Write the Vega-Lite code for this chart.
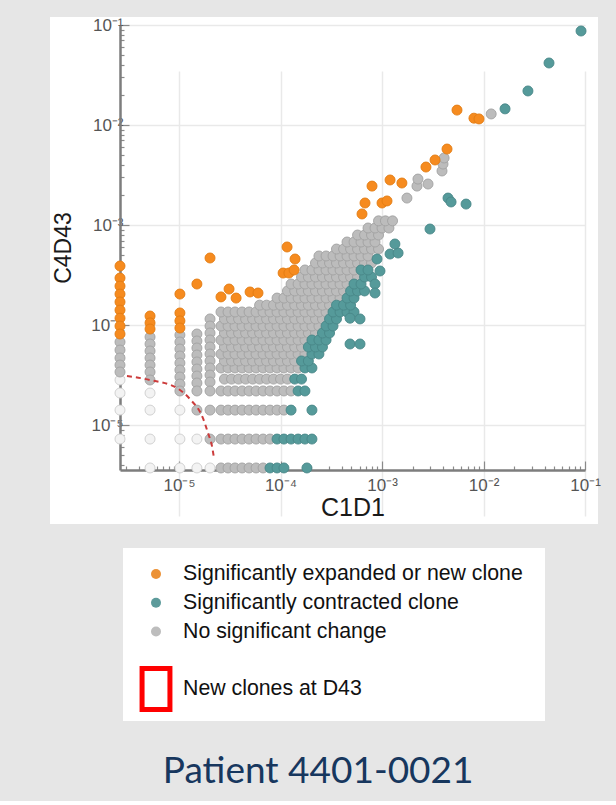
{
"$schema":"https://vega.github.io/schema/vega-lite/v6.json",
"background":"#e6e6e6",
"padding":{"left":50,"top":16,"right":18,"bottom":11},
"autosize":{"type":"pad"},
"bounds":"full",
"spacing":24,
"title":{"text":"Patient 4401-0021","orient":"bottom","anchor":"middle","font":"Lato","fontSize":37,"fontWeight":"normal","color":"#17375E","offset":33,"dx":-7},
"config":{"view":{"stroke":null},"font":"Liberation Sans"},
"resolve":{"scale":{"x":"independent","y":"independent","fill":"independent","stroke":"independent"}},
"vconcat":[
{
"width":548,"height":507,
"view":{"fill":"white","stroke":null},
"layer":[
{"mark":{"type":"rule","strokeDash":[6,5],"strokeWidth":1.5,"color":"#b5bbc3"},
"encoding":{
"x":{"datum":3.55e-6,"type":"quantitative","title":"C1D1","scale":{"type":"log","domain":[2.62e-6,0.1],"range":[70,535],"nice":false},
"axis":{"orient":"bottom","offset":-54,"values":[3e-6,4e-6,5e-6,6e-6,7e-6,8e-6,9e-6,1e-5,2e-5,3e-5,4e-5,5e-5,6e-5,7e-5,8e-5,9e-5,1e-4,2e-4,3e-4,4e-4,5e-4,6e-4,7e-4,8e-4,9e-4,1e-3,2e-3,3e-3,4e-3,5e-3,6e-3,7e-3,8e-3,9e-3,1e-2,2e-2,3e-2,4e-2,5e-2,6e-2,7e-2,8e-2,9e-2,0.1],
"labelExpr":"abs(log(datum.value)/LN10 - round(log(datum.value)/LN10)) > 0.01 ? '' : round(log(datum.value)/LN10) == -1 ? '10⁻¹' : round(log(datum.value)/LN10) == -2 ? '10⁻²' : round(log(datum.value)/LN10) == -3 ? '10⁻³' : round(log(datum.value)/LN10) == -4 ? '10⁻⁴' : '10⁻⁵'",
"labelOverlap":false,"labelFlush":false,"labelBound":false,"labelFont":"Liberation Sans","labelFontSize":17,"labelColor":"#555555","labelPadding":16,
"tickSize":{"condition":{"test":"abs(log(datum.value)/LN10 - round(log(datum.value)/LN10)) < 0.01","value":-9},"value":-4},
"tickColor":"#8a8a8a","tickWidth":1.2,"domainColor":"#7d7d7d","domainWidth":2.5,
"grid":true,"gridColor":"#e9e9e9","gridWidth":1.5,"gridOpacity":{"condition":{"test":"abs(log(datum.value)/LN10 - round(log(datum.value)/LN10)) < 0.01","value":1},"value":0},
"titleFont":"Liberation Sans","titleFontSize":25,"titleFontWeight":"normal","titleColor":"#1a1a1a","titlePadding":-3}},
"y":{"datum":3.55e-6,"type":"quantitative","title":"C4D43","scale":{"type":"log","domain":[3.55e-6,0.1],"range":[453,8],"nice":false},
"axis":{"orient":"left","offset":-70,"values":[4e-6,5e-6,6e-6,7e-6,8e-6,9e-6,1e-5,2e-5,3e-5,4e-5,5e-5,6e-5,7e-5,8e-5,9e-5,1e-4,2e-4,3e-4,4e-4,5e-4,6e-4,7e-4,8e-4,9e-4,1e-3,2e-3,3e-3,4e-3,5e-3,6e-3,7e-3,8e-3,9e-3,1e-2,2e-2,3e-2,4e-2,5e-2,6e-2,7e-2,8e-2,9e-2,0.1],
"labelExpr":"abs(log(datum.value)/LN10 - round(log(datum.value)/LN10)) > 0.01 ? '' : round(log(datum.value)/LN10) == -1 ? '10⁻¹' : round(log(datum.value)/LN10) == -2 ? '10⁻²' : round(log(datum.value)/LN10) == -3 ? '10⁻³' : round(log(datum.value)/LN10) == -4 ? '10⁻⁴' : '10⁻⁵'",
"labelOverlap":false,"labelFlush":false,"labelBound":false,"labelFont":"Liberation Sans","labelFontSize":17,"labelColor":"#555555","labelPadding":6,
"tickSize":{"condition":{"test":"abs(log(datum.value)/LN10 - round(log(datum.value)/LN10)) < 0.01","value":-9},"value":-4},
"tickColor":"#8a8a8a","tickWidth":1.2,"domainColor":"#7d7d7d","domainWidth":2.5,
"grid":true,"gridColor":"#e9e9e9","gridWidth":1.5,"gridOpacity":{"condition":{"test":"abs(log(datum.value)/LN10 - round(log(datum.value)/LN10)) < 0.01","value":1},"value":0},
"titleFont":"Liberation Sans","titleFontSize":23,"titleFontWeight":"normal","titleColor":"#1a1a1a","titlePadding":15}},
"x2":{"datum":0.1},
"y2":{"datum":0.1}
}},
{"data":{"values":[
{"x":2.62e-6,"y":2.82e-5,"s":"L"},{"x":2.62e-6,"y":2.09e-5,"s":"L"},{"x":2.62e-6,"y":1.41e-5,"s":"L"},{"x":2.62e-6,"y":7.24e-6,"s":"L"},
{"x":5.18e-6,"y":2.09e-5,"s":"L"},{"x":5.18e-6,"y":1.41e-5,"s":"L"},{"x":5.18e-6,"y":7.24e-6,"s":"L"},{"x":5.18e-6,"y":3.72e-6,"s":"L"},
{"x":1.02e-5,"y":1.41e-5,"s":"L"},{"x":1.02e-5,"y":7.24e-6,"s":"L"},{"x":1.02e-5,"y":3.72e-6,"s":"L"},
{"x":1.5e-5,"y":7.24e-6,"s":"L"},{"x":1.5e-5,"y":3.72e-6,"s":"L"},{"x":2.02e-5,"y":3.72e-6,"s":"L"},
{"x":2.62e-6,"y":6.76e-5,"s":"N"},{"x":2.62e-6,"y":5.62e-5,"s":"N"},{"x":2.62e-6,"y":4.68e-5,"s":"N"},{"x":2.62e-6,"y":3.98e-5,"s":"N"},{"x":2.62e-6,"y":3.39e-5,"s":"N"},
{"x":5.18e-6,"y":7.59e-5,"s":"N"},{"x":5.18e-6,"y":6.46e-5,"s":"N"},{"x":5.18e-6,"y":5.5e-5,"s":"N"},{"x":5.18e-6,"y":4.68e-5,"s":"N"},{"x":5.18e-6,"y":3.98e-5,"s":"N"},{"x":5.18e-6,"y":3.39e-5,"s":"N"},{"x":5.18e-6,"y":2.82e-5,"s":"N"},
{"x":1.02e-5,"y":7.94e-5,"s":"N"},{"x":1.02e-5,"y":6.76e-5,"s":"N"},{"x":1.02e-5,"y":5.75e-5,"s":"N"},{"x":1.02e-5,"y":4.9e-5,"s":"N"},{"x":1.02e-5,"y":4.17e-5,"s":"N"},{"x":1.02e-5,"y":3.55e-5,"s":"N"},{"x":1.02e-5,"y":3.02e-5,"s":"N"},{"x":1.02e-5,"y":2.57e-5,"s":"N"},{"x":1.02e-5,"y":2.19e-5,"s":"N"},
{"x":1.5e-5,"y":8.13e-5,"s":"N"},{"x":1.5e-5,"y":6.92e-5,"s":"N"},{"x":1.5e-5,"y":5.89e-5,"s":"N"},{"x":1.5e-5,"y":5.01e-5,"s":"N"},{"x":1.5e-5,"y":4.27e-5,"s":"N"},{"x":1.5e-5,"y":3.63e-5,"s":"N"},{"x":1.5e-5,"y":3.09e-5,"s":"N"},{"x":1.5e-5,"y":2.63e-5,"s":"N"},{"x":1.5e-5,"y":2.19e-5,"s":"N"},{"x":1.5e-5,"y":1.41e-5,"s":"N"},
{"x":2.02e-5,"y":1.15e-4,"s":"N"},{"x":2.02e-5,"y":9.77e-5,"s":"N"},{"x":2.02e-5,"y":8.32e-5,"s":"N"},{"x":2.02e-5,"y":7.08e-5,"s":"N"},{"x":2.02e-5,"y":6.03e-5,"s":"N"},{"x":2.02e-5,"y":5.13e-5,"s":"N"},{"x":2.02e-5,"y":4.37e-5,"s":"N"},{"x":2.02e-5,"y":3.72e-5,"s":"N"},{"x":2.02e-5,"y":3.16e-5,"s":"N"},{"x":2.02e-5,"y":2.69e-5,"s":"N"},{"x":2.02e-5,"y":2.19e-5,"s":"N"},{"x":2.02e-5,"y":1.41e-5,"s":"N"},{"x":2.02e-5,"y":7.24e-6,"s":"N"},
{"x":2.59e-5,"y":3.72e-6,"s":"N"},{"x":3.04e-5,"y":3.72e-6,"s":"N"},{"x":3.56e-5,"y":3.72e-6,"s":"N"},{"x":4.18e-5,"y":3.72e-6,"s":"N"},{"x":4.9e-5,"y":3.72e-6,"s":"N"},{"x":5.74e-5,"y":3.72e-6,"s":"N"},{"x":6.73e-5,"y":3.72e-6,"s":"N"},
{"x":2.59e-5,"y":7.24e-6,"s":"N"},{"x":3.04e-5,"y":7.24e-6,"s":"N"},{"x":3.56e-5,"y":7.24e-6,"s":"N"},{"x":4.18e-5,"y":7.24e-6,"s":"N"},{"x":4.9e-5,"y":7.24e-6,"s":"N"},{"x":5.74e-5,"y":7.24e-6,"s":"N"},{"x":6.73e-5,"y":7.24e-6,"s":"N"},{"x":7.88e-5,"y":7.24e-6,"s":"N"},
{"x":2.59e-5,"y":1.41e-5,"s":"N"},{"x":3.04e-5,"y":1.41e-5,"s":"N"},{"x":3.56e-5,"y":1.41e-5,"s":"N"},{"x":4.18e-5,"y":1.41e-5,"s":"N"},{"x":4.9e-5,"y":1.41e-5,"s":"N"},{"x":5.74e-5,"y":1.41e-5,"s":"N"},{"x":6.73e-5,"y":1.41e-5,"s":"N"},{"x":7.88e-5,"y":1.41e-5,"s":"N"},{"x":9.24e-5,"y":1.41e-5,"s":"N"},{"x":1.08e-4,"y":1.41e-5,"s":"N"},
{"x":2.59e-5,"y":2.19e-5,"s":"N"},{"x":3.04e-5,"y":2.19e-5,"s":"N"},{"x":3.56e-5,"y":2.19e-5,"s":"N"},{"x":4.18e-5,"y":2.19e-5,"s":"N"},{"x":4.9e-5,"y":2.19e-5,"s":"N"},{"x":5.74e-5,"y":2.19e-5,"s":"N"},{"x":6.73e-5,"y":2.19e-5,"s":"N"},{"x":7.88e-5,"y":2.19e-5,"s":"N"},{"x":9.24e-5,"y":2.19e-5,"s":"N"},{"x":1.08e-4,"y":2.19e-5,"s":"N"},{"x":1.27e-4,"y":2.19e-5,"s":"N"},
{"x":2.8e-5,"y":2.88e-5,"s":"N"},{"x":3.29e-5,"y":2.88e-5,"s":"N"},{"x":3.86e-5,"y":2.88e-5,"s":"N"},{"x":4.53e-5,"y":2.88e-5,"s":"N"},{"x":5.31e-5,"y":2.88e-5,"s":"N"},{"x":6.22e-5,"y":2.88e-5,"s":"N"},{"x":7.29e-5,"y":2.88e-5,"s":"N"},{"x":8.53e-5,"y":2.88e-5,"s":"N"},{"x":1e-4,"y":2.88e-5,"s":"N"},{"x":1.17e-4,"y":2.88e-5,"s":"N"},
{"x":2.59e-5,"y":3.72e-5,"s":"N"},{"x":3.04e-5,"y":3.72e-5,"s":"N"},{"x":3.56e-5,"y":3.72e-5,"s":"N"},{"x":4.18e-5,"y":3.72e-5,"s":"N"},{"x":4.9e-5,"y":3.72e-5,"s":"N"},{"x":5.74e-5,"y":3.72e-5,"s":"N"},{"x":6.73e-5,"y":3.72e-5,"s":"N"},{"x":7.88e-5,"y":3.72e-5,"s":"N"},{"x":9.24e-5,"y":3.72e-5,"s":"N"},{"x":1.08e-4,"y":3.72e-5,"s":"N"},{"x":1.27e-4,"y":3.72e-5,"s":"N"},{"x":1.49e-4,"y":3.72e-5,"s":"N"},
{"x":2.8e-5,"y":4.37e-5,"s":"N"},{"x":3.29e-5,"y":4.37e-5,"s":"N"},{"x":3.86e-5,"y":4.37e-5,"s":"N"},{"x":4.53e-5,"y":4.37e-5,"s":"N"},{"x":5.31e-5,"y":4.37e-5,"s":"N"},{"x":6.22e-5,"y":4.37e-5,"s":"N"},{"x":7.29e-5,"y":4.37e-5,"s":"N"},{"x":8.53e-5,"y":4.37e-5,"s":"N"},{"x":1e-4,"y":4.37e-5,"s":"N"},{"x":1.17e-4,"y":4.37e-5,"s":"N"},{"x":1.38e-4,"y":4.37e-5,"s":"N"},
{"x":2.59e-5,"y":5.13e-5,"s":"N"},{"x":3.04e-5,"y":5.13e-5,"s":"N"},{"x":3.56e-5,"y":5.13e-5,"s":"N"},{"x":4.18e-5,"y":5.13e-5,"s":"N"},{"x":4.9e-5,"y":5.13e-5,"s":"N"},{"x":5.74e-5,"y":5.13e-5,"s":"N"},{"x":6.73e-5,"y":5.13e-5,"s":"N"},{"x":7.88e-5,"y":5.13e-5,"s":"N"},{"x":9.24e-5,"y":5.13e-5,"s":"N"},{"x":1.08e-4,"y":5.13e-5,"s":"N"},{"x":1.27e-4,"y":5.13e-5,"s":"N"},{"x":1.49e-4,"y":5.13e-5,"s":"N"},{"x":1.74e-4,"y":5.13e-5,"s":"N"},
{"x":2.8e-5,"y":6.03e-5,"s":"N"},{"x":3.29e-5,"y":6.03e-5,"s":"N"},{"x":3.86e-5,"y":6.03e-5,"s":"N"},{"x":4.53e-5,"y":6.03e-5,"s":"N"},{"x":5.31e-5,"y":6.03e-5,"s":"N"},{"x":6.22e-5,"y":6.03e-5,"s":"N"},{"x":7.29e-5,"y":6.03e-5,"s":"N"},{"x":8.53e-5,"y":6.03e-5,"s":"N"},{"x":1e-4,"y":6.03e-5,"s":"N"},{"x":1.17e-4,"y":6.03e-5,"s":"N"},{"x":1.38e-4,"y":6.03e-5,"s":"N"},{"x":1.61e-4,"y":6.03e-5,"s":"N"},
{"x":2.59e-5,"y":7.08e-5,"s":"N"},{"x":3.04e-5,"y":7.08e-5,"s":"N"},{"x":3.56e-5,"y":7.08e-5,"s":"N"},{"x":4.18e-5,"y":7.08e-5,"s":"N"},{"x":4.9e-5,"y":7.08e-5,"s":"N"},{"x":5.74e-5,"y":7.08e-5,"s":"N"},{"x":6.73e-5,"y":7.08e-5,"s":"N"},{"x":7.88e-5,"y":7.08e-5,"s":"N"},{"x":9.24e-5,"y":7.08e-5,"s":"N"},{"x":1.08e-4,"y":7.08e-5,"s":"N"},{"x":1.27e-4,"y":7.08e-5,"s":"N"},{"x":1.49e-4,"y":7.08e-5,"s":"N"},{"x":1.74e-4,"y":7.08e-5,"s":"N"},
{"x":2.8e-5,"y":8.32e-5,"s":"N"},{"x":3.29e-5,"y":8.32e-5,"s":"N"},{"x":3.86e-5,"y":8.32e-5,"s":"N"},{"x":4.53e-5,"y":8.32e-5,"s":"N"},{"x":5.31e-5,"y":8.32e-5,"s":"N"},{"x":6.22e-5,"y":8.32e-5,"s":"N"},{"x":7.29e-5,"y":8.32e-5,"s":"N"},{"x":8.53e-5,"y":8.32e-5,"s":"N"},{"x":1e-4,"y":8.32e-5,"s":"N"},{"x":1.17e-4,"y":8.32e-5,"s":"N"},{"x":1.38e-4,"y":8.32e-5,"s":"N"},{"x":1.61e-4,"y":8.32e-5,"s":"N"},{"x":1.88e-4,"y":8.32e-5,"s":"N"},{"x":2.21e-4,"y":8.32e-5,"s":"N"},
{"x":2.59e-5,"y":9.77e-5,"s":"N"},{"x":3.04e-5,"y":9.77e-5,"s":"N"},{"x":3.56e-5,"y":9.77e-5,"s":"N"},{"x":4.18e-5,"y":9.77e-5,"s":"N"},{"x":4.9e-5,"y":9.77e-5,"s":"N"},{"x":5.74e-5,"y":9.77e-5,"s":"N"},{"x":6.73e-5,"y":9.77e-5,"s":"N"},{"x":7.88e-5,"y":9.77e-5,"s":"N"},{"x":9.24e-5,"y":9.77e-5,"s":"N"},{"x":1.08e-4,"y":9.77e-5,"s":"N"},{"x":1.27e-4,"y":9.77e-5,"s":"N"},{"x":1.49e-4,"y":9.77e-5,"s":"N"},{"x":1.74e-4,"y":9.77e-5,"s":"N"},{"x":2.04e-4,"y":9.77e-5,"s":"N"},{"x":2.39e-4,"y":9.77e-5,"s":"N"},
{"x":2.8e-5,"y":1.15e-4,"s":"N"},{"x":3.29e-5,"y":1.15e-4,"s":"N"},{"x":3.86e-5,"y":1.15e-4,"s":"N"},{"x":4.53e-5,"y":1.15e-4,"s":"N"},{"x":5.31e-5,"y":1.15e-4,"s":"N"},{"x":6.22e-5,"y":1.15e-4,"s":"N"},{"x":7.29e-5,"y":1.15e-4,"s":"N"},{"x":8.53e-5,"y":1.15e-4,"s":"N"},{"x":1e-4,"y":1.15e-4,"s":"N"},{"x":1.17e-4,"y":1.15e-4,"s":"N"},{"x":1.38e-4,"y":1.15e-4,"s":"N"},{"x":1.61e-4,"y":1.15e-4,"s":"N"},{"x":1.88e-4,"y":1.15e-4,"s":"N"},{"x":2.21e-4,"y":1.15e-4,"s":"N"},{"x":2.59e-4,"y":1.15e-4,"s":"N"},
{"x":2.59e-5,"y":1.35e-4,"s":"N"},{"x":3.04e-5,"y":1.35e-4,"s":"N"},{"x":3.56e-5,"y":1.35e-4,"s":"N"},{"x":4.18e-5,"y":1.35e-4,"s":"N"},{"x":4.9e-5,"y":1.35e-4,"s":"N"},{"x":5.74e-5,"y":1.35e-4,"s":"N"},{"x":6.73e-5,"y":1.35e-4,"s":"N"},{"x":7.88e-5,"y":1.35e-4,"s":"N"},{"x":9.24e-5,"y":1.35e-4,"s":"N"},{"x":1.08e-4,"y":1.35e-4,"s":"N"},{"x":1.27e-4,"y":1.35e-4,"s":"N"},{"x":1.49e-4,"y":1.35e-4,"s":"N"},{"x":1.74e-4,"y":1.35e-4,"s":"N"},{"x":2.04e-4,"y":1.35e-4,"s":"N"},{"x":2.39e-4,"y":1.35e-4,"s":"N"},{"x":2.81e-4,"y":1.35e-4,"s":"N"},
{"x":6.22e-5,"y":1.58e-4,"s":"N"},{"x":7.29e-5,"y":1.58e-4,"s":"N"},{"x":8.53e-5,"y":1.58e-4,"s":"N"},{"x":1e-4,"y":1.58e-4,"s":"N"},{"x":1.17e-4,"y":1.58e-4,"s":"N"},{"x":1.38e-4,"y":1.58e-4,"s":"N"},{"x":1.61e-4,"y":1.58e-4,"s":"N"},{"x":1.88e-4,"y":1.58e-4,"s":"N"},{"x":2.21e-4,"y":1.58e-4,"s":"N"},{"x":2.59e-4,"y":1.58e-4,"s":"N"},{"x":3.04e-4,"y":1.58e-4,"s":"N"},
{"x":9.24e-5,"y":1.86e-4,"s":"N"},{"x":1.08e-4,"y":1.86e-4,"s":"N"},{"x":1.27e-4,"y":1.86e-4,"s":"N"},{"x":1.49e-4,"y":1.86e-4,"s":"N"},{"x":1.74e-4,"y":1.86e-4,"s":"N"},{"x":2.04e-4,"y":1.86e-4,"s":"N"},{"x":2.39e-4,"y":1.86e-4,"s":"N"},{"x":2.81e-4,"y":1.86e-4,"s":"N"},{"x":3.29e-4,"y":1.86e-4,"s":"N"},{"x":3.86e-4,"y":1.86e-4,"s":"N"},
{"x":1.17e-4,"y":2.19e-4,"s":"N"},{"x":1.38e-4,"y":2.19e-4,"s":"N"},{"x":1.61e-4,"y":2.19e-4,"s":"N"},{"x":1.88e-4,"y":2.19e-4,"s":"N"},{"x":2.21e-4,"y":2.19e-4,"s":"N"},{"x":2.59e-4,"y":2.19e-4,"s":"N"},{"x":3.04e-4,"y":2.19e-4,"s":"N"},{"x":3.56e-4,"y":2.19e-4,"s":"N"},{"x":4.18e-4,"y":2.19e-4,"s":"N"},
{"x":1.27e-4,"y":2.57e-4,"s":"N"},{"x":1.49e-4,"y":2.57e-4,"s":"N"},{"x":1.74e-4,"y":2.57e-4,"s":"N"},{"x":2.04e-4,"y":2.57e-4,"s":"N"},{"x":2.39e-4,"y":2.57e-4,"s":"N"},{"x":2.81e-4,"y":2.57e-4,"s":"N"},{"x":3.29e-4,"y":2.57e-4,"s":"N"},{"x":3.86e-4,"y":2.57e-4,"s":"N"},{"x":4.52e-4,"y":2.57e-4,"s":"N"},
{"x":1.61e-4,"y":3.02e-4,"s":"N"},{"x":1.88e-4,"y":3.02e-4,"s":"N"},{"x":2.21e-4,"y":3.02e-4,"s":"N"},{"x":2.59e-4,"y":3.02e-4,"s":"N"},{"x":3.04e-4,"y":3.02e-4,"s":"N"},{"x":3.56e-4,"y":3.02e-4,"s":"N"},{"x":4.18e-4,"y":3.02e-4,"s":"N"},{"x":4.9e-4,"y":3.02e-4,"s":"N"},{"x":5.74e-4,"y":3.02e-4,"s":"N"},
{"x":1.74e-4,"y":3.55e-4,"s":"N"},{"x":2.04e-4,"y":3.55e-4,"s":"N"},{"x":2.39e-4,"y":3.55e-4,"s":"N"},{"x":2.81e-4,"y":3.55e-4,"s":"N"},{"x":3.29e-4,"y":3.55e-4,"s":"N"},{"x":3.86e-4,"y":3.55e-4,"s":"N"},{"x":4.52e-4,"y":3.55e-4,"s":"N"},{"x":5.3e-4,"y":3.55e-4,"s":"N"},
{"x":2.21e-4,"y":4.17e-4,"s":"N"},{"x":2.59e-4,"y":4.17e-4,"s":"N"},{"x":3.04e-4,"y":4.17e-4,"s":"N"},{"x":3.56e-4,"y":4.17e-4,"s":"N"},{"x":4.18e-4,"y":4.17e-4,"s":"N"},{"x":4.9e-4,"y":4.17e-4,"s":"N"},{"x":5.74e-4,"y":4.17e-4,"s":"N"},{"x":6.73e-4,"y":4.17e-4,"s":"N"},{"x":7.88e-4,"y":4.17e-4,"s":"N"},
{"x":2.39e-4,"y":4.9e-4,"s":"N"},{"x":2.81e-4,"y":4.9e-4,"s":"N"},{"x":3.29e-4,"y":4.9e-4,"s":"N"},{"x":3.86e-4,"y":4.9e-4,"s":"N"},{"x":4.52e-4,"y":4.9e-4,"s":"N"},{"x":5.3e-4,"y":4.9e-4,"s":"N"},{"x":6.21e-4,"y":4.9e-4,"s":"N"},{"x":7.28e-4,"y":4.9e-4,"s":"N"},
{"x":3.56e-4,"y":5.75e-4,"s":"N"},{"x":4.18e-4,"y":5.75e-4,"s":"N"},{"x":4.9e-4,"y":5.75e-4,"s":"N"},{"x":5.74e-4,"y":5.75e-4,"s":"N"},{"x":6.73e-4,"y":5.75e-4,"s":"N"},{"x":7.88e-4,"y":5.75e-4,"s":"N"},{"x":9.24e-4,"y":5.75e-4,"s":"N"},
{"x":4.52e-4,"y":6.76e-4,"s":"N"},{"x":5.3e-4,"y":6.76e-4,"s":"N"},{"x":6.21e-4,"y":6.76e-4,"s":"N"},{"x":7.28e-4,"y":6.76e-4,"s":"N"},{"x":8.53e-4,"y":6.76e-4,"s":"N"},
{"x":5.74e-4,"y":7.94e-4,"s":"N"},{"x":6.73e-4,"y":7.94e-4,"s":"N"},{"x":7.88e-4,"y":7.94e-4,"s":"N"},{"x":9.24e-4,"y":7.94e-4,"s":"N"},
{"x":7.28e-4,"y":9.33e-4,"s":"N"},{"x":8.53e-4,"y":9.33e-4,"s":"N"},{"x":1e-3,"y":9.33e-4,"s":"N"},{"x":1.17e-3,"y":9.33e-4,"s":"N"},
{"x":9.24e-4,"y":1.1e-3,"s":"N"},{"x":1.08e-3,"y":1.1e-3,"s":"N"},{"x":1.27e-3,"y":1.1e-3,"s":"N"},
{"x":1.76e-3,"y":1.86e-3,"s":"N"},{"x":2.21e-3,"y":2.45e-3,"s":"N"},{"x":2.26e-3,"y":2.88e-3,"s":"N"},{"x":2.84e-3,"y":2.57e-3,"s":"N"},{"x":3.9e-3,"y":3.47e-3,"s":"N"},{"x":3.99e-3,"y":4.07e-3,"s":"N"},{"x":4.09e-3,"y":4.68e-3,"s":"N"},{"x":1.19e-2,"y":1.29e-2,"s":"N"},
{"x":7.88e-5,"y":3.72e-6,"s":"C"},{"x":9.24e-5,"y":3.72e-6,"s":"C"},{"x":1.08e-4,"y":3.72e-6,"s":"C"},{"x":1.82e-4,"y":3.72e-6,"s":"C"},
{"x":9.24e-5,"y":7.24e-6,"s":"C"},{"x":1.08e-4,"y":7.24e-6,"s":"C"},{"x":1.27e-4,"y":7.24e-6,"s":"C"},{"x":1.49e-4,"y":7.24e-6,"s":"C"},{"x":1.74e-4,"y":7.24e-6,"s":"C"},{"x":2.04e-4,"y":7.24e-6,"s":"C"},
{"x":1.27e-4,"y":1.41e-5,"s":"C"},{"x":2.04e-4,"y":1.41e-5,"s":"C"},
{"x":1.49e-4,"y":2.19e-5,"s":"C"},{"x":1.74e-4,"y":2.19e-5,"s":"C"},
{"x":1.38e-4,"y":2.88e-5,"s":"C"},{"x":1.61e-4,"y":2.88e-5,"s":"C"},
{"x":1.74e-4,"y":3.72e-5,"s":"C"},{"x":2.04e-4,"y":3.72e-5,"s":"C"},
{"x":1.61e-4,"y":4.37e-5,"s":"C"},{"x":1.88e-4,"y":4.37e-5,"s":"C"},
{"x":2.04e-4,"y":5.13e-5,"s":"C"},{"x":2.39e-4,"y":5.13e-5,"s":"C"},
{"x":1.88e-4,"y":6.03e-5,"s":"C"},{"x":2.21e-4,"y":6.03e-5,"s":"C"},{"x":2.59e-4,"y":6.03e-5,"s":"C"},
{"x":2.04e-4,"y":7.08e-5,"s":"C"},{"x":2.39e-4,"y":7.08e-5,"s":"C"},{"x":2.81e-4,"y":7.08e-5,"s":"C"},
{"x":2.59e-4,"y":8.32e-5,"s":"C"},{"x":3.04e-4,"y":8.32e-5,"s":"C"},
{"x":2.81e-4,"y":9.77e-5,"s":"C"},{"x":3.29e-4,"y":9.77e-5,"s":"C"},
{"x":3.04e-4,"y":1.15e-4,"s":"C"},{"x":3.56e-4,"y":1.15e-4,"s":"C"},
{"x":3.29e-4,"y":1.35e-4,"s":"C"},{"x":3.86e-4,"y":1.35e-4,"s":"C"},{"x":4.52e-4,"y":1.35e-4,"s":"C"},{"x":5.3e-4,"y":1.35e-4,"s":"C"},
{"x":3.56e-4,"y":1.58e-4,"s":"C"},{"x":4.18e-4,"y":1.58e-4,"s":"C"},{"x":4.9e-4,"y":1.58e-4,"s":"C"},
{"x":4.52e-4,"y":1.86e-4,"s":"C"},{"x":5.3e-4,"y":1.86e-4,"s":"C"},
{"x":4.9e-4,"y":2.19e-4,"s":"C"},{"x":5.74e-4,"y":2.19e-4,"s":"C"},{"x":6.73e-4,"y":2.19e-4,"s":"C"},
{"x":5.3e-4,"y":2.57e-4,"s":"C"},{"x":6.21e-4,"y":2.57e-4,"s":"C"},
{"x":6.73e-4,"y":3.02e-4,"s":"C"},{"x":7.88e-4,"y":3.02e-4,"s":"C"},
{"x":6.21e-4,"y":3.55e-4,"s":"C"},{"x":7.28e-4,"y":3.55e-4,"s":"C"},
{"x":4.84e-4,"y":6.46e-5,"s":"C"},{"x":6.07e-4,"y":6.46e-5,"s":"C"},{"x":4.84e-4,"y":1.17e-4,"s":"C"},{"x":6.07e-4,"y":1.15e-4,"s":"C"},
{"x":8.53e-4,"y":2.57e-4,"s":"C"},{"x":8.53e-4,"y":2.09e-4,"s":"C"},{"x":9.55e-4,"y":3.47e-4,"s":"C"},{"x":8.93e-4,"y":4.57e-4,"s":"C"},
{"x":1.2e-3,"y":5.13e-4,"s":"C"},{"x":1.44e-3,"y":5.25e-4,"s":"C"},{"x":1.34e-3,"y":6.46e-4,"s":"C"},{"x":2.97e-3,"y":9.12e-4,"s":"C"},
{"x":4.47e-3,"y":1.86e-3,"s":"C"},{"x":4.79e-3,"y":1.7e-3,"s":"C"},{"x":6.73e-3,"y":1.62e-3,"s":"C"},
{"x":1.63e-2,"y":1.45e-2,"s":"C"},{"x":2.74e-2,"y":2.19e-2,"s":"C"},{"x":4.42e-2,"y":4.17e-2,"s":"C"},{"x":9.14e-2,"y":8.71e-2,"s":"C"},
{"x":2.62e-6,"y":3.89e-4,"s":"E"},{"x":2.62e-6,"y":2.95e-4,"s":"E"},{"x":2.62e-6,"y":2.45e-4,"s":"E"},{"x":2.62e-6,"y":2.04e-4,"s":"E"},{"x":2.62e-6,"y":1.7e-4,"s":"E"},{"x":2.62e-6,"y":1.41e-4,"s":"E"},{"x":2.62e-6,"y":1.17e-4,"s":"E"},{"x":2.62e-6,"y":9.77e-5,"s":"E"},{"x":2.62e-6,"y":8.13e-5,"s":"E"},
{"x":5.18e-6,"y":1.23e-4,"s":"E"},{"x":5.18e-6,"y":1.05e-4,"s":"E"},{"x":5.18e-6,"y":9.12e-5,"s":"E"},
{"x":1.02e-5,"y":2.04e-4,"s":"E"},{"x":1.02e-5,"y":1.32e-4,"s":"E"},{"x":1.02e-5,"y":1.1e-4,"s":"E"},{"x":1.02e-5,"y":9.33e-5,"s":"E"},
{"x":1.5e-5,"y":2.57e-4,"s":"E"},{"x":2.02e-5,"y":4.68e-4,"s":"E"},
{"x":2.59e-5,"y":1.91e-4,"s":"E"},{"x":3.11e-5,"y":2.29e-4,"s":"E"},{"x":3.65e-5,"y":1.86e-4,"s":"E"},{"x":5.01e-5,"y":2.14e-4,"s":"E"},{"x":6e-5,"y":2.09e-4,"s":"E"},
{"x":1.06e-4,"y":3.31e-4,"s":"E"},{"x":1.21e-4,"y":3.31e-4,"s":"E"},{"x":1.36e-4,"y":3.55e-4,"s":"E"},{"x":1.16e-4,"y":6.03e-4,"s":"E"},{"x":1.39e-4,"y":4.57e-4,"s":"E"},
{"x":6.35e-4,"y":1.29e-3,"s":"E"},{"x":6.8e-4,"y":1.66e-3,"s":"E"},{"x":7.97e-4,"y":2.45e-3,"s":"E"},{"x":1e-3,"y":1.66e-3,"s":"E"},{"x":1.12e-3,"y":1.74e-3,"s":"E"},{"x":1.2e-3,"y":2.82e-3,"s":"E"},{"x":1.57e-3,"y":2.63e-3,"s":"E"},
{"x":2.71e-3,"y":3.8e-3,"s":"E"},{"x":3.33e-3,"y":4.47e-3,"s":"E"},{"x":4.37e-3,"y":5.75e-3,"s":"E"},
{"x":5.48e-3,"y":1.41e-2,"s":"E"},{"x":8.05e-3,"y":1.17e-2,"s":"E"},{"x":9.03e-3,"y":1.15e-2,"s":"E"}
]},
"mark":{"type":"circle","size":100,"opacity":1,"strokeWidth":0.9},
"encoding":{
"x":{"field":"x","type":"quantitative","title":"C1D1"},
"y":{"field":"y","type":"quantitative","title":"C4D43"},
"fill":{"field":"s","type":"nominal","scale":{"domain":["L","N","C","E"],"range":["#f3f3f3","#bcbcbc","#559a9a","#f68b1f"]},"legend":null},
"stroke":{"field":"s","type":"nominal","scale":{"domain":["L","N","C","E"],"range":["#cdcdcd","#a2a2a2","#488788","#e27c12"]},"legend":null}
}},
{"mark":{"type":"rect","fillOpacity":0,"stroke":"#8c8c8c","strokeWidth":1.8},
"encoding":{"x":{"datum":2.62e-6,"type":"quantitative","title":"C1D1"},"x2":{"datum":0.1},"y":{"datum":3.55e-6,"type":"quantitative","title":"C4D43"},"y2":{"datum":0.1}}},
{"data":{"values":[
{"i":1,"x":3.07e-6,"y":3.09e-5},{"i":2,"x":5.18e-6,"y":2.82e-5},{"i":3,"x":9.55e-6,"y":2.34e-5},{"i":4,"x":1.28e-5,"y":1.82e-5},
{"i":5,"x":1.72e-5,"y":1.17e-5},{"i":6,"x":1.93e-5,"y":8.32e-6},{"i":7,"x":2.11e-5,"y":6.17e-6},{"i":8,"x":2.21e-5,"y":4.68e-6}
]},
"mark":{"type":"line","interpolate":"monotone","strokeDash":[5,4],"strokeWidth":2,"color":"#cc3b3b"},
"encoding":{"x":{"field":"x","type":"quantitative","title":"C1D1"},"y":{"field":"y","type":"quantitative","title":"C4D43"},"order":{"field":"i","type":"quantitative"}}},
{"mark":{"type":"rect","fillOpacity":0,"stroke":"#ff0000","strokeWidth":5},
"encoding":{"x":{"datum":1.76e-6,"type":"quantitative","title":"C1D1"},"x2":{"datum":3.73e-6},"y":{"datum":5.31e-5,"type":"quantitative","title":"C4D43"},"y2":{"datum":5.69e-4}}},
{"mark":{"type":"rule","strokeWidth":2,"color":"#000000"},
"encoding":{"x":{"datum":2.21e-3,"type":"quantitative","title":"C1D1"},"x2":{"datum":4.27e-3},"y":{"datum":2.75e-2,"type":"quantitative","title":"C4D43"},"y2":{"datum":1.8e-2}}},
{"mark":{"type":"point","shape":"triangle-right","angle":33,"size":90,"filled":true,"opacity":1,"color":"#000000"},
"encoding":{"x":{"datum":4.47e-3,"type":"quantitative","title":"C1D1"},"y":{"datum":1.74e-2,"type":"quantitative","title":"C4D43"}}},
{"mark":{"type":"text","text":"MART-1 clone","font":"Lato","fontSize":24,"color":"#17375E","align":"center","baseline":"middle"},
"encoding":{"x":{"datum":2.87e-4,"type":"quantitative","title":"C1D1"},"y":{"datum":3.02e-2,"type":"quantitative","title":"C4D43"}}}
]
},
{
"spacing":0,
"hconcat":[
{"width":73,"height":20,"data":{"values":[]},"mark":"point"},
{
"width":422,"height":173,
"view":{"fill":"white","stroke":null},
"data":{"values":[
{"label":"Significantly expanded or new clone","kind":"E"},
{"label":"Significantly contracted clone","kind":"C"},
{"label":"No significant change","kind":"N"},
{"label":"New clones at D43","kind":"B"}
]},
"encoding":{"y":{"field":"label","type":"nominal","scale":{"type":"point","padding":0,"domain":["Significantly expanded or new clone","Significantly contracted clone","No significant change","","New clones at D43"],"range":[26,141]},"axis":null}},
"layer":[
{"transform":[{"filter":"datum.kind !== 'B'"}],
"mark":{"type":"circle","size":100,"opacity":1},
"encoding":{"x":{"datum":"symbol","type":"nominal","scale":{"type":"point","padding":0,"domain":["symbol","label"],"range":[33,60]},"axis":null},
"fill":{"field":"kind","type":"nominal","scale":{"domain":["E","C","N"],"range":["#ec9236","#5d9b9b","#bdbdbd"]},"legend":null}}},
{"transform":[{"filter":"datum.kind === 'B'"}],
"mark":{"type":"point","shape":"M-0.68,-1H0.68V1H-0.68Z","size":1681,"stroke":"#ff0000","strokeWidth":5,"filled":false,"opacity":1},
"encoding":{"x":{"datum":"symbol","type":"nominal"}}},
{"mark":{"type":"text","align":"left","baseline":"middle","font":"Liberation Sans","fontSize":21.3,"color":"#111111"},
"encoding":{"x":{"datum":"label","type":"nominal"},"text":{"field":"label"}}}
]
}
]
}
]
}
